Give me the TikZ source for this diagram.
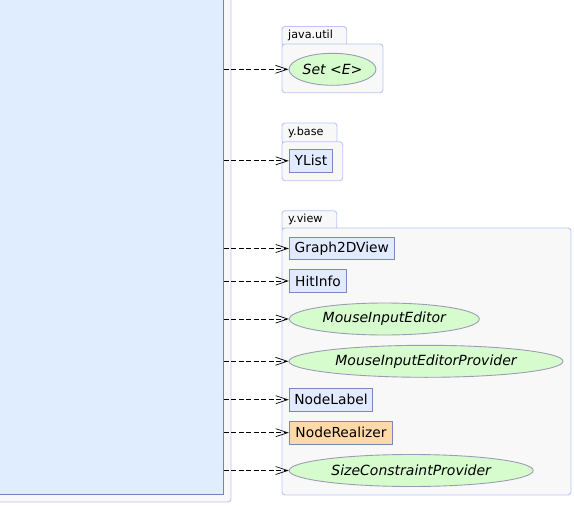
\documentclass[tikz,border=0pt]{standalone}
\usepackage{fontspec}
\setmainfont{DejaVu Sans}
\usetikzlibrary{arrows.meta,shapes.geometric}
\definecolor{mainfill}{HTML}{E0ECFF}
\definecolor{mainline}{HTML}{7880B4}
\definecolor{clsfill}{HTML}{E2EBFD}
\definecolor{clsline}{HTML}{7E86C0}
\definecolor{realfill}{HTML}{FFDAA8}
\definecolor{ifcfill}{HTML}{D6FCCE}
\definecolor{ifcline}{HTML}{9C9CB4}
\definecolor{pkgfill}{HTML}{F8F8F8}
\definecolor{pkgline}{HTML}{BCC4F8}
\tikzset{
  pkg/.style={draw=pkgline, fill=pkgfill, line width=0.9pt, rounded corners=3pt},
  pkglabel/.style={font=\fontsize{11.2}{13}\selectfont, anchor=west, inner sep=0pt},
  cls/.style={draw=clsline, fill=clsfill, line width=0.9pt, rectangle, inner sep=0pt,
    minimum height=22.8pt, font=\fontsize{13.8}{15}\selectfont},
  ifc/.style={draw=ifcline, fill=ifcfill, line width=0.9pt, ellipse, inner sep=0pt,
    minimum height=32pt, font=\fontsize{14}{15}\selectfont\itshape},
  dep/.style={draw=black, line width=0.8pt, dash pattern=on 5pt off 2.5pt,
    -{Straight Barb[length=12pt,width=8pt,line width=0.7pt]}}
}
\begin{document}
\begin{tikzpicture}[x=1pt,y=-1pt]
\useasboundingbox (0,0) rectangle (574,506);
% outer package frame (left)
\draw[pkg] (-10,-10) rectangle (231,502);
% main class box
\node[draw=mainline, fill=mainfill, line width=0.9pt, rectangle, inner sep=0pt,
  minimum width=235pt, minimum height=507pt, anchor=south east] (main) at (223.5,495) {};
% package java.util
\draw[pkg] (282,26.5) rectangle (346.7,46);
\draw[pkg] (282,44) rectangle (383,92.7);
\node[pkglabel] (lbljava) at (288,35.5) {java.util};
% package y.base
\draw[pkg] (282,123) rectangle (337,144);
\draw[pkg] (282,141.7) rectangle (342.7,180.7);
\node[pkglabel] (lblbase) at (288,132.5) {y.base};
% package y.view
\draw[pkg] (282,210.7) rectangle (336.7,230);
\draw[pkg] (282,228) rectangle (571,495);
\node[pkglabel] (lblview) at (288,219.5) {y.view};
% classes
\node[ifc, minimum width=87pt] (set) at (332.5,69.3) {Set <E>};
\node[cls, minimum width=43.4pt] (ylist) at (311,160.8) {YList};
\node[cls, minimum width=105pt] (g2d) at (341.8,248.5) {Graph2DView};
\node[cls, minimum width=57.4pt] (hit) at (318,281) {HitInfo};
\node[ifc, minimum width=190pt] (mie) at (384.3,319) {MouseInputEditor};
\node[ifc, minimum width=274pt] (miep) at (426,361.3) {MouseInputEditorProvider};
\node[cls, minimum width=83.4pt] (nlab) at (331,399.7) {NodeLabel};
\node[cls, minimum width=103.4pt, fill=realfill] (nreal) at (341,432.7) {NodeRealizer};
\node[ifc, minimum width=244pt] (scp) at (411.2,470.5) {SizeConstraintProvider};
% dependencies
\foreach \t in {set,ylist,g2d,hit,mie,miep,nlab,nreal,scp}{
  \draw[dep] (main.east |- \t.west) -- (\t.west);
}
\end{tikzpicture}
\end{document}
